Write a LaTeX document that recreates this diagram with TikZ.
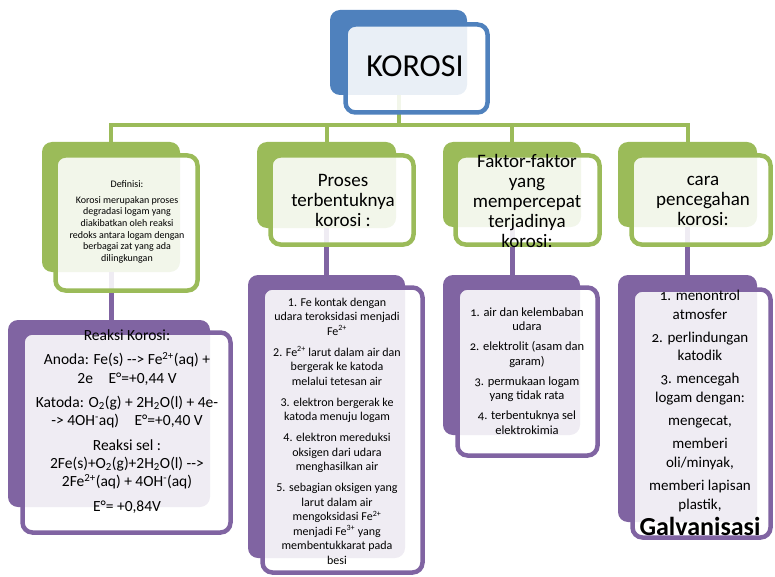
\documentclass[tikz,border=0pt]{standalone}
\usepackage{fontspec}
\setmainfont{Carlito}
\newfontfamily\listfont{Carlito}[Numbers=OldStyle]
\newcommand\twohy{-\kern0pt-}
\definecolor{korosiblue}{HTML}{4F81BD}
\definecolor{leafgreen}{HTML}{9BBB59}
\definecolor{plum}{HTML}{8064A2}
\tikzset{
  backbox/.style={fill=#1,rounded corners=10pt,inner sep=0pt,outer sep=0pt},
  frontbox/.style={draw=#1,line width=4.5pt,fill=white,fill opacity=0.88,rounded corners=10pt,inner sep=0pt},
  greenlink/.style={leafgreen,line width=4pt},
  plumlink/.style={plum,line width=5pt},
  boxtext/.style={align=center,inner sep=0pt,text=black}
}
\begin{document}
\begin{tikzpicture}[x=1pt,y=-1pt]
    \useasboundingbox (0,0) rectangle (775,577);
    %%%%%%%%%%%%%%%%%%%%%%%%%%%%%%%%%%%%%% Back boxes
    \node[backbox=korosiblue,minimum width=137pt,minimum height=85pt] (korosiB) at (398.5,52.5) {};
    \node[backbox=leafgreen,minimum width=138pt,minimum height=130pt] (defB) at (111,207) {};
    \node[backbox=leafgreen,minimum width=139pt,minimum height=86pt] (prosesB) at (326.5,185) {};
    \node[backbox=leafgreen,minimum width=138pt,minimum height=85pt] (faktorB) at (512,184.5) {};
    \node[backbox=leafgreen,minimum width=139pt,minimum height=85pt] (caraB) at (687.5,184.5) {};
    \node[backbox=plum,minimum width=202pt,minimum height=187pt] (reaksiB) at (109,413.5) {};
    \node[backbox=plum,minimum width=157pt,minimum height=283pt] (tahapB) at (326.5,416.5) {};
    \node[backbox=plum,minimum width=137pt,minimum height=160pt] (sebabB) at (511.5,355) {};
    \node[backbox=plum,minimum width=139pt,minimum height=247pt] (cegahB) at (687.5,398.5) {};

    %%%%%%%%%%%%%%%%%%%%%%%%%%%%%%%%%%%%%% Connectors
    \coordinate (bus) at (0,125);
    \foreach \h in {defB,prosesB,faktorB,caraB}
        \draw[greenlink] (korosiB.south) -- (korosiB.south |- bus) -| (\h.north);
    \draw[plumlink] (defB.south) -- (defB.south |- reaksiB.north);
    \draw[plumlink] (prosesB.south) -- (prosesB.south |- tahapB.north);
    \draw[plumlink] (faktorB.south) -- (faktorB.south |- sebabB.north);
    \draw[plumlink] (caraB.south) -- (caraB.south |- cegahB.north);

    %%%%%%%%%%%%%%%%%%%%%%%%%%%%%%%%%%%%%% Front boxes
    \node[frontbox=korosiblue,minimum width=142pt,minimum height=88pt] (korosiF) at (416.5,68.5) {};
    \node[frontbox=leafgreen,minimum width=142pt,minimum height=135pt] (defF) at (126.5,223) {};
    \node[frontbox=leafgreen,minimum width=143pt,minimum height=89pt] (prosesF) at (342,200) {};
    \node[frontbox=leafgreen,minimum width=144pt,minimum height=89pt] (faktorF) at (527.5,200) {};
    \node[frontbox=leafgreen,minimum width=139pt,minimum height=89pt] (caraF) at (701,200) {};
    \node[frontbox=plum,minimum width=208pt,minimum height=200pt] (reaksiF) at (126.5,432.5) {};
    \node[frontbox=plum,minimum width=160pt,minimum height=285pt] (tahapF) at (342.5,430) {};
    \node[frontbox=plum,minimum width=140pt,minimum height=168pt] (sebabF) at (527.5,371.5) {};
    \node[frontbox=plum,minimum width=138pt,minimum height=248pt] (cegahF) at (701.5,413.5) {};

    %%%%%%%%%%%%%%%%%%%%%%%%%%%%%%%%%%%%%% Texts
    \node[boxtext,font=\fontsize{32}{36}\selectfont] (korosiT) at (415,66) {KOROSI};
    \node[boxtext,font=\fontsize{10}{11.7}\selectfont] (defT) at (127,222)
        {Definisi:\\[4pt] Korosi merupakan proses\\ degradasi logam yang\\ diakibatkan oleh reaksi\\ redoks antara logam dengan\\ berbagai zat yang ada\\ dilingkungan};
    \node[boxtext,font=\fontsize{19}{20}\selectfont] (prosesT) at (343,200) {Proses\\ terbentuknya\\ korosi :};
    \node[boxtext,font=\fontsize{19}{20}\selectfont] (faktorT) at (527,201) {Faktor-faktor\\ yang\\ mempercepat\\ terjadinya\\ korosi:};
    \node[boxtext,font=\fontsize{19}{20}\selectfont] (caraT) at (703,201) {cara\\ pencegahan\\ korosi:};

    \node[boxtext,font=\fontsize{15.5}{18.3}\selectfont] (reaksiT) at (127,421.5)
        {Reaksi Korosi:\\[6pt]
         Anoda: Fe(s) \twohy> Fe\textsuperscript{2+}(aq) +\\ 2e\quad E°=+0,44 V\\[6pt]
         Katoda: O\textsubscript{2}(g) + 2H\textsubscript{2}O(l) + 4e-\\ -> 4OH\textsuperscript{-}aq)\quad E°=+0,40 V\\[6pt]
         Reaksi sel :\\ 2Fe(s)+O\textsubscript{2}(g)+2H\textsubscript{2}O(l) \twohy>\\ 2Fe\textsuperscript{2+}(aq) + 4OH\textsuperscript{-}(aq)\\[6pt]
         E°= +0,84V};
    \node[boxtext,font=\fontsize{12}{14.5}\selectfont] (tahapT) at (337,431)
        {1. Fe kontak dengan\\ udara teroksidasi menjadi\\ Fe\textsuperscript{2+}\\[6.5pt]
         2. Fe\textsuperscript{2+} larut dalam air dan\\ bergerak ke katoda\\ melalui tetesan air\\[6.5pt]
         3. elektron bergerak ke\\ katoda menuju logam\\[6.5pt]
         4. elektron mereduksi\\ oksigen dari udara\\ menghasilkan air\\[6.5pt]
         5. sebagian oksigen yang\\ larut dalam air\\ mengoksidasi Fe\textsuperscript{2+}\\ menjadi Fe\textsuperscript{3+} yang\\ membentukkarat pada\\ besi};
    \node[boxtext,font=\listfont\fontsize{12.5}{14.5}\selectfont] (sebabT) at (527,371)
        {1. air dan kelembaban\\ udara\\[5.5pt]
         2. elektrolit (asam dan\\ garam)\\[5.5pt]
         3. permukaan logam\\ yang tidak rata\\[5.5pt]
         4. terbentuknya sel\\ elektrokimia};
    \node[boxtext,font=\listfont\fontsize{15}{18.6}\selectfont] (cegahT) at (700,413)
        {1. menontrol\\ atmosfer\\[4.5pt]
         2. perlindungan\\ katodik\\[4.5pt]
         3. mencegah\\ logam dengan:\\[4.5pt]
         mengecat,\\[4.5pt]
         memberi\\ oli/minyak,\\[4.5pt]
         memberi lapisan\\ plastik,\\[5pt]
         {\fontsize{26}{28}\selectfont\bfseries Galvanisasi}};
\end{tikzpicture}
\end{document}
